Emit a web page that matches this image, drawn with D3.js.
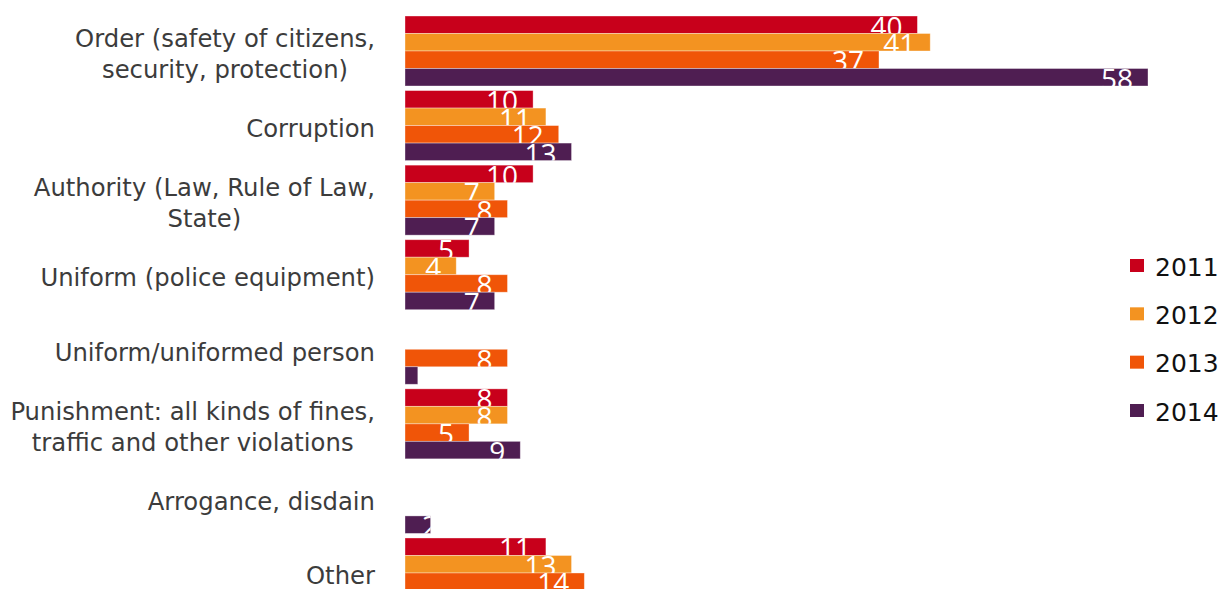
<!DOCTYPE html>
<html>
<head>
<meta charset="utf-8">
<script src="https://cdn.jsdelivr.net/npm/d3@7"></script>
<style>
  html, body { margin: 0; padding: 0; background: #fff; overflow: hidden; }
  svg { display: block; }
</style>
</head>
<body>
<svg id="chart" width="1221" height="589"></svg>
<script>
// Categories (each entry is a list of label lines)
const categories = [
  ["Order (safety of citizens,", "security, protection)"],
  ["Corruption"],
  ["Authority (Law, Rule of Law,", "State)"],
  ["Uniform (police equipment)"],
  ["Uniform/uniformed person"],
  ["Punishment: all kinds of fines,", "traffic and other violations"],
  ["Arrogance, disdain"],
  ["Other"]
];

const years = ["2011", "2012", "2013", "2014"];

// Percent of respondents per year, in category order (null = no answer recorded)
const values2011 = [40, 10, 10, 5, null, 8, null, 11];
const values2012 = [41, 11, 7, 4, null, 8, null, 13];
const values2013 = [37, 12, 8, 8, 8, 5, null, 14];
const values2014 = [58, 13, 7, 7, 1, 9, 2, null];

const colors = ["#c8001b", "#f39321", "#f05508", "#4f1e52"];

const series = [values2011, values2012, values2013, values2014];

const svg = d3.select("#chart");

const catKeys = categories.map((c, i) => i);

const x = d3.scaleLinear().domain([0, 58]).range([405, 1148]);

const step = 74.57;
const pad = 0.0613;
const y0 = 16 - step * pad / 2;
const y = d3.scaleBand()
  .domain(catKeys)
  .range([y0, y0 + step * categories.length])
  .paddingInner(pad)
  .paddingOuter(pad / 2);

const yInner = d3.scaleBand()
  .domain(years)
  .range([0, y.bandwidth()]);

// Rows: one per (category, year) with a value
const rows = [];
catKeys.forEach(ci => {
  years.forEach((yr, si) => {
    const v = series[si][ci];
    if (v !== null && v !== undefined) rows.push({ ci, si, yr, v });
  });
});

const defs = svg.append("defs");
const barsG = svg.append("g");

rows.forEach((r, k) => {
  const top = y(r.ci) + yInner(r.yr);
  const h = yInner.bandwidth();
  const w = x(r.v) - x(0);
  const id = "clip-" + k;
  defs.append("clipPath").attr("id", id)
    .append("rect")
    .attr("x", x(0)).attr("y", top).attr("width", w).attr("height", h);

  barsG.append("rect")
    .attr("x", x(0)).attr("y", top)
    .attr("width", w).attr("height", h)
    .attr("fill", colors[r.si])
    .attr("stroke", "#ffffff").attr("stroke-opacity", 0.45).attr("stroke-width", 0.8);

  // Value label inside the bar end, never starting left of the bar's inner margin
  const label = barsG.append("text")
    .attr("clip-path", `url(#${id})`)
    .attr("y", top + 20.5)
    .attr("text-anchor", "start")
    .attr("font-family", "'Open Sans', 'DejaVu Sans', sans-serif")
    .attr("font-size", 28)
    .attr("fill", "#ffffff")
    .text(r.v);
  const tw = label.node().getComputedTextLength();
  label.attr("x", Math.max(x(r.v) - 15 - tw, x(0) + 17));
});

// Category labels: lines centered on each other, block right-aligned
const labelRight = 375;
const lineGap = 31.5;
const labelsG = svg.append("g")
  .attr("font-family", "'DejaVu Sans', Verdana, sans-serif")
  .attr("font-size", 24.3)
  .attr("fill", "#3c3c3c");

categories.forEach((lines, ci) => {
  const cy = y(ci) + y.bandwidth() / 2 + 3;
  const t = labelsG.append("text");
  const tspans = lines.map((line, li) =>
    t.append("tspan")
      .attr("y", cy + (li - (lines.length - 1) / 2) * lineGap + 8.5)
      .text(line)
  );
  const widths = tspans.map(s => s.node().getComputedTextLength());
  const maxW = d3.max(widths);
  const cx = labelRight - maxW / 2;
  tspans.forEach(s => s.attr("x", cx).attr("text-anchor", "middle"));
});

// Legend
const legend = svg.append("g")
  .attr("font-family", "'DejaVu Sans', Verdana, sans-serif")
  .attr("font-size", 25)
  .attr("fill", "#111");

const legendY = d3.scalePoint().domain(years).range([266, 411]);

years.forEach((yr, i) => {
  const cy = legendY(yr);
  legend.append("rect")
    .attr("x", 1130).attr("y", cy - 7)
    .attr("width", 14).attr("height", 13)
    .attr("fill", colors[i]);
  legend.append("text")
    .attr("x", 1155).attr("y", cy + 9.5)
    .text(yr);
});
</script>
</body>
</html>
